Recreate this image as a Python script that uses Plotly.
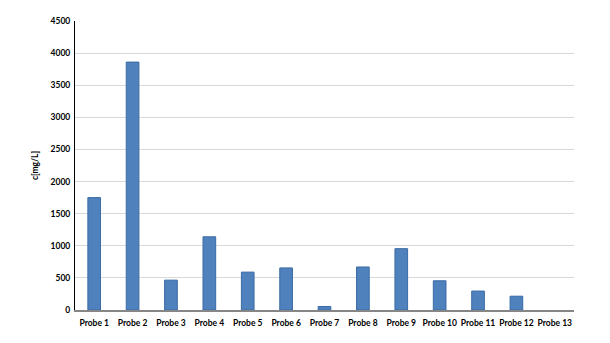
import plotly.graph_objects as go

categories = [f"Probe {i}" for i in range(1, 14)]
values = [1750, 3860, 465, 1140, 590, 655, 55, 670, 955, 455, 295, 215, 0]
y_ticks = [0, 500, 1000, 1500, 2000, 2500, 3000, 3500, 4000, 4500]

line_widths = [1 if v > 0 else 0 for v in values]

fig = go.Figure(go.Bar(
    x=categories, y=values,
    marker=dict(color="#4F81BD", line=dict(color="#3B6BA5", width=line_widths)),
    width=0.33,
))

fig.update_layout(
    width=610, height=343,
    margin=dict(l=75, r=36, t=21, b=33),
    plot_bgcolor="white", paper_bgcolor="white",
    font=dict(family="Lato", size=8, color="black"),
    showlegend=False,
)
fig.update_xaxes(
    showline=True, linecolor="#868686", linewidth=1.5,
    ticks="", tickfont=dict(family="Lato", size=8.5, weight="bold"),
    ticklabelstandoff=4,
    showgrid=False,
)
fig.update_yaxes(
    range=[0, 4500], tickvals=y_ticks,
    showline=True, linecolor="black", linewidth=1,
    gridcolor="#D9D9D9", gridwidth=1,
    ticks="", tickfont=dict(family="Lato", size=8.5, weight="bold"),
    ticklabelstandoff=2,
    title=dict(text="c[mg/L]", font=dict(family="Lato", size=8.5, weight="bold"), standoff=10),
    zeroline=False,
)

fig.write_html("out.html")
